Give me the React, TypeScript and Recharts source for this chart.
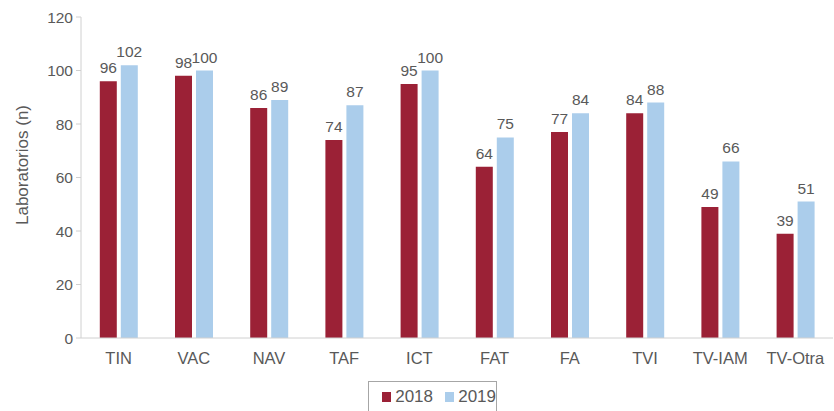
import React from "react";
import { BarChart, Bar, XAxis, YAxis, LabelList, Legend } from "recharts";

const categories = ["TIN", "VAC", "NAV", "TAF", "ICT", "FAT", "FA", "TVI", "TV-IAM", "TV-Otra"];
const values2018 = [96, 98, 86, 74, 95, 64, 77, 84, 49, 39];
const values2019 = [102, 100, 89, 87, 100, 75, 84, 88, 66, 51];
const yTicks = [0, 20, 40, 60, 80, 100, 120];

const data = categories.map((c, i) => ({ name: c, y2018: values2018[i], y2019: values2019[i] }));

const RED = "#9b2136";
const BLUE = "#abcdeb";
const TEXT = "#595959";
const FONT = "'Liberation Sans', Arial, Helvetica, sans-serif";

const LegendBox = () => (
  <div style={{ position: "relative", height: 30 }}>
    <div
      style={{
        position: "absolute",
        left: 368,
        top: 0,
        width: 127,
        height: 30,
        borderTop: "1px solid #a6a6a6",
        borderLeft: "1px solid #a6a6a6",
        borderRight: "1px solid #a6a6a6",
        boxSizing: "content-box",
        display: "flex",
        alignItems: "center",
        fontFamily: FONT,
        fontSize: 17,
        color: TEXT,
      }}
    >
      <span style={{ width: 10, height: 10, background: RED, display: "inline-block", marginLeft: 13, marginRight: 4 }} />
      <span style={{ marginRight: 12 }}>2018</span>
      <span style={{ width: 10, height: 10, background: BLUE, display: "inline-block", marginRight: 4 }} />
      <span>2019</span>
    </div>
  </div>
);

const YLabel = () => (
  <text
    x={22}
    y={165}
    transform="rotate(-90 22 165)"
    textAnchor="middle"
    dominantBaseline="central"
    fill={TEXT}
    fontSize={17}
    fontFamily={FONT}
  >
    Laboratorios (n)
  </text>
);

export default function App() {
  return (
    <div style={{ position: "absolute", left: 0, top: 0, width: 834, height: 411, background: "#fff" }}>
      <BarChart
        width={834}
        height={411}
        data={data}
        margin={{ top: 17, right: 1, bottom: 0, left: 0 }}
        barCategoryGap="25%"
        barGap={4}
      >
        <XAxis
          dataKey="name"
          tickLine={false}
          axisLine={{ stroke: "#d0d0d0" }}
          tick={{ fill: TEXT, fontSize: 16.5, fontFamily: FONT }}
          tickMargin={8}
          height={43}
          interval={0}
        />
        <YAxis
          domain={[0, 120]}
          ticks={yTicks}
          width={81}
          axisLine={{ stroke: "#d0d0d0" }}
          tickLine={{ stroke: "#d0d0d0" }}
          tickSize={5}
          tickMargin={3}
          tick={{ fill: TEXT, fontSize: 15.5, fontFamily: FONT }}
          label={<YLabel />}
        />
        <Legend verticalAlign="bottom" content={<LegendBox />} wrapperStyle={{ bottom: 0, left: 0, width: 834 }} />
        <Bar dataKey="y2018" name="2018" fill={RED} isAnimationActive={false}>
          <LabelList dataKey="y2018" position="top" offset={8} style={{ fill: TEXT, fontSize: 15.5, fontFamily: FONT }} />
        </Bar>
        <Bar dataKey="y2019" name="2019" fill={BLUE} isAnimationActive={false}>
          <LabelList dataKey="y2019" position="top" offset={8} style={{ fill: TEXT, fontSize: 15.5, fontFamily: FONT }} />
        </Bar>
      </BarChart>
    </div>
  );
}
